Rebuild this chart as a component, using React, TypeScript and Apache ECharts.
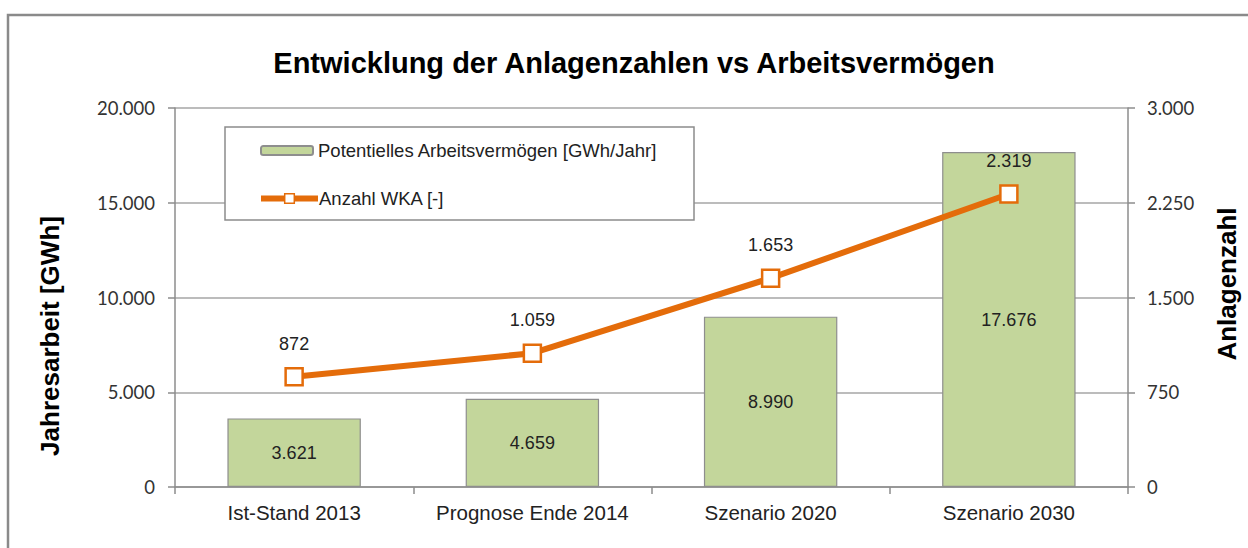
import React, { useEffect, useRef } from "react";
import * as echarts from "echarts";

const categories = ["Ist-Stand 2013", "Prognose Ende 2014", "Szenario 2020", "Szenario 2030"];
const arbeitsvermoegen = [3621, 4659, 8990, 17676];
const anzahlWKA = [872, 1059, 1653, 2319];
const barName = "Potentielles Arbeitsvermögen [GWh/Jahr]";
const lineName = "Anzahl WKA [-]";
const titleText = "Entwicklung der Anlagenzahlen vs Arbeitsvermögen";
const leftAxisName = "Jahresarbeit [GWh]";
const rightAxisName = "Anlagenzahl";

const fmt = (v: number) => {
  const s = Math.round(v).toString();
  return s.replace(/\B(?=(\d{3})+(?!\d))/g, ".");
};

export default function App() {
  const ref = useRef<HTMLDivElement>(null);
  useEffect(() => {
    if (!ref.current) return;
    const chart = echarts.init(ref.current, undefined, { renderer: "svg" });
    const gray = "#8c8c8c";
    const labelFont = "'Liberation Sans', Arial, sans-serif";
    const tickFont = "Lato, 'Open Sans', sans-serif";
    chart.setOption({
      animation: false,
      backgroundColor: "#ffffff",
      grid: { left: 175, right: 120, top: 108, bottom: 61, containLabel: false },
      legend: [
        {
          data: [barName],
          left: 260,
          top: 141,
          padding: 0,
          z: 20,
          itemWidth: 52,
          itemHeight: 9,
          itemGap: 4,
          textStyle: { fontFamily: labelFont, fontSize: 18.5, color: "#222" },
        },
        {
          data: [lineName],
          left: 258,
          top: 189,
          padding: 0,
          z: 20,
          itemWidth: 57,
          itemHeight: 12,
          lineStyle: { width: 6, color: "#E46C0A" },
          itemStyle: { color: "#ffffff", borderColor: "#E46C0A", borderWidth: 1.5 },
          textStyle: { fontFamily: labelFont, fontSize: 18.5, color: "#222", padding: [0, 0, 0, -4] },
        },
      ],
      xAxis: {
        type: "category",
        data: categories,
        axisLine: { show: true, lineStyle: { color: gray, width: 1.5 } },
        axisTick: { show: true, alignWithLabel: false, interval: 0, length: 7, lineStyle: { color: gray, width: 1.5 } },
        axisLabel: { fontFamily: labelFont, fontSize: 20.5, color: "#222", margin: 15, interval: 0 },
      },
      yAxis: [
        {
          type: "value",
          min: 0,
          max: 20000,
          interval: 5000,
          axisLine: { show: true, lineStyle: { color: gray, width: 1.5 } },
          axisTick: { show: true, length: 7, lineStyle: { color: gray, width: 1.5 } },
          axisLabel: { fontFamily: tickFont, fontSize: 18.5, color: "#333", margin: 20, formatter: fmt },
          splitLine: { show: true, lineStyle: { color: "#a6a6a6", width: 1.5 } },
        },
        {
          type: "value",
          min: 0,
          max: 3000,
          interval: 750,
          position: "right",
          axisLine: { show: true, lineStyle: { color: gray, width: 1.5 } },
          axisTick: { show: true, length: 7, lineStyle: { color: gray, width: 1.5 } },
          axisLabel: { fontFamily: tickFont, fontSize: 18.5, color: "#333", margin: 19, formatter: fmt },
          splitLine: { show: false },
        },
      ],
      graphic: [
        {
          type: "rect",
          silent: true,
          shape: { x: 8, y: 15, width: 1260, height: 600 },
          style: { fill: "none", stroke: "#8a8a8a", lineWidth: 2.5 },
          z: -10,
        },
        {
          type: "rect",
          silent: true,
          shape: { x: 225, y: 127, width: 469, height: 93 },
          style: { fill: "#ffffff", stroke: gray, lineWidth: 1.5 },
          z: 1,
        },
        {
          type: "text",
          x: 634,
          y: 63,
          style: {
            text: titleText,
            fontFamily: labelFont,
            fontSize: 29,
            fontWeight: "bold",
            fill: "#000",
            align: "center",
            verticalAlign: "middle",
          },
        },
        {
          type: "text",
          x: 50,
          y: 336,
          rotation: Math.PI / 2,
          style: {
            text: leftAxisName,
            fontFamily: labelFont,
            fontSize: 26,
            fontWeight: "bold",
            fill: "#000",
            align: "center",
            verticalAlign: "middle",
          },
        },
        {
          type: "text",
          x: 1227,
          y: 284,
          rotation: Math.PI / 2,
          style: {
            text: rightAxisName,
            fontFamily: labelFont,
            fontSize: 26,
            fontWeight: "bold",
            fill: "#000",
            align: "center",
            verticalAlign: "middle",
          },
        },
      ],
      series: [
        {
          name: barName,
          type: "bar",
          data: arbeitsvermoegen,
          barWidth: "56%",
          itemStyle: { color: "#C3D69B", borderColor: "#8e8e8e", borderWidth: 1.2 },
          label: {
            show: true,
            position: "inside",
            fontFamily: labelFont,
            fontSize: 18,
            color: "#222",
            formatter: (p: any) => fmt(p.value),
          },
          z: 2,
        },
        {
          name: lineName,
          type: "line",
          yAxisIndex: 1,
          data: anzahlWKA,
          symbol: "rect",
          symbolSize: 17,
          showAllSymbol: true,
          lineStyle: { color: "#E46C0A", width: 6 },
          itemStyle: { color: "#ffffff", borderColor: "#E46C0A", borderWidth: 2.5 },
          label: {
            show: true,
            position: "top",
            distance: 14,
            fontFamily: labelFont,
            fontSize: 18,
            color: "#222",
            formatter: (p: any) => fmt(p.value),
          },
          z: 3,
        },
      ],
    });
    return () => chart.dispose();
  }, []);
  return (
    <div
      ref={ref}
      style={{ position: "absolute", left: 0, top: 0, width: 1248, height: 548 }}
    />
  );
}
